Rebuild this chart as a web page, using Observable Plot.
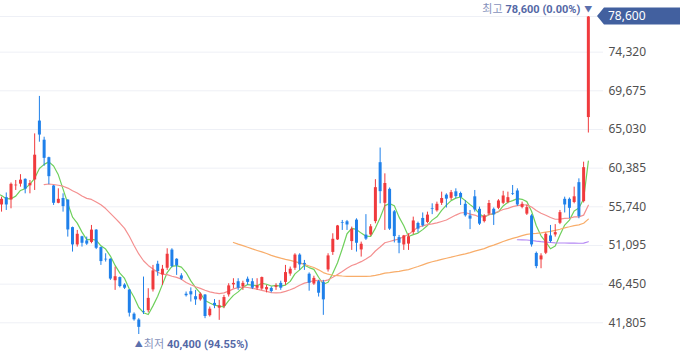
<!DOCTYPE html>
<html><head><meta charset="utf-8">
<script src="https://cdn.jsdelivr.net/npm/d3@7"></script>
<script src="https://cdn.jsdelivr.net/npm/@observablehq/plot@0.6"></script>
<style>
html,body{margin:0;padding:0;background:#fff;}
#chart svg{display:block;}
</style></head><body><div id="chart"></div>
<script>
// closes of the sessions before the visible window (only feed the moving averages)
const hiddenCloses = [58000,57300,58600,57900,57400,57600,57800,58600,56800,55600];
const opens = [55900,56900,56500,58200,58400,59100,58200,58900,66100,63800,
61700,58300,56100,56800,56600,53300,51100,52200,51700,51400,
53000,50900,49500,49500,46800,47300,46400,45800,42900,42200,
43200,43200,45700,48900,47500,48300,50600,49500,47500,45300,
45600,45000,44500,45200,42600,44200,43500,43700,45100,46300,
46800,46100,47100,46800,45900,45800,45700,46000,46000,46600,
46600,47600,48300,50000,49000,47700,46400,46800,46700,48100,
50200,51700,53900,54000,51500,54200,50500,52400,52300,53900,
61100,56100,57900,55200,52100,51100,51200,52600,53800,54400,
53800,55600,55200,56100,57200,56700,57600,57400,56100,54700,
57000,55500,53900,54800,55500,55500,56100,56200,57400,57700,
55600,54800,54700,50200,49300,50100,52300,52300,53700,56700,
56700,56200,58700,56300,66400];
const highs = [56900,57400,58600,58900,59600,59100,58900,64500,69000,64100,
61700,58300,57900,57300,56600,53300,52900,52200,52100,53500,
53000,50900,50100,49500,48500,47300,46500,45800,43000,42300,
47300,45900,48700,49200,48700,50700,50700,49500,47700,45500,
46000,45700,45400,45200,43700,44600,44500,45100,46500,47100,
47100,46800,47300,47100,47100,47300,46300,46100,46500,46800,
48700,48500,50100,50100,49300,47800,47400,46900,46900,50100,
52500,53500,54100,54100,53300,54300,51500,54800,53600,59000,
62800,59700,58000,55300,52300,52300,52500,54500,53900,55000,
55100,56100,56300,57500,57300,57700,57900,57500,56500,55300,
57700,55700,54800,56500,55600,56600,57600,57500,58300,57900,
56300,55900,54800,50300,50100,52600,53500,53600,55300,56900,
56800,58100,59100,61100,78600];
const lows = [55100,55300,55500,57700,58100,57300,57300,57700,63500,60600,
58400,55900,56100,55100,52100,50300,50900,50900,51100,51300,
50600,48700,49100,46900,45700,46000,45800,42500,42000,40400,
42800,43000,45500,47400,46300,48100,48400,47500,46900,44900,
44300,43900,44400,42300,42500,43500,42100,43500,44900,45900,
45700,45700,46300,45800,45700,45700,45400,45400,45700,45700,
46300,47400,48100,48100,48100,45600,46300,44900,42700,47900,
49900,51700,52900,52900,50500,50300,49700,51700,52200,53700,
56100,52900,52900,51400,50100,50500,50500,52400,52600,53300,
53700,54800,55100,55900,55600,56500,56700,55900,54500,53000,
55100,53500,53800,54700,53500,55400,56000,56100,57100,55800,
55500,54700,50900,48300,48300,50000,51400,52100,53600,55000,
54300,56100,54300,56200,64600];
const closes = [56700,55900,58500,58400,59000,57800,58600,62000,64300,61500,
59300,56100,56700,55700,52900,51100,52500,51300,51200,53000,
50700,49100,49300,47000,47400,46100,45900,42900,42100,41200,
43000,44800,48100,47900,48300,50100,48500,48600,47000,45000,
45100,44500,45300,42500,43500,43800,43900,44900,46300,46600,
45900,46600,46600,45900,46300,47300,46100,45500,46300,45900,
47900,48300,50000,48700,48700,46500,47200,45300,44500,49900,
51900,53500,53700,53500,53100,51300,51300,51800,53400,58100,
57500,58600,53000,52100,51300,52300,52200,54100,53000,53400,
54800,55400,56100,56800,56600,57500,56900,56800,54600,54200,
55300,53600,54700,56200,54700,56500,57100,56900,57200,55900,
56100,55700,51100,48500,49900,52500,51500,52700,55100,55900,
55500,57000,54500,60500,78600];
const yTicks = [41805, 46450, 51095, 55740, 60385, 65030, 69675, 74320];
const highValue = 78600, lowValue = 40400;
const highParts = ["최고 ", "78,600 (0.00%)"];
const lowParts = ["최저 ", "40,400 (94.55%)"];
const maPeriods = [5, 20, 60, 120];
const maColors = ["#6fd05c", "#f49090", "#f8ad6a", "#b487f4"];

const UP = "#f03a3d", DOWN = "#1f80ea";
const all = [];
hiddenCloses.forEach((c, i) => all.push({i, close: c, hidden: true}));
opens.forEach((o, j) => all.push({i: hiddenCloses.length + j, open: o, high: highs[j], low: lows[j], close: closes[j]}));
const visible = all.filter(d => !d.hidden);
const lastIdx = all.length - 1;
const lowIdx = visible.find(d => d.low === lowValue).i;
const col = d => d.close >= d.open ? UP : DOWN;

const plot = Plot.plot({
  width: 680, height: 358,
  marginLeft: 0, marginRight: 77, marginTop: 16, marginBottom: 24,
  style: {background: "#fff", fontFamily: "'Noto Sans','Noto Sans CJK KR',sans-serif", fontSize: "12px", color: "#505050", overflow: "visible"},
  color: {type: "identity"},
  x: {domain: [9.78, 137.2], axis: null},
  y: {domain: [lowValue, highValue], axis: "right", ticks: yTicks, tickSize: 0, tickPadding: 5, tickFormat: d3.format(","), label: null},
  marks: [
    Plot.ruleY([...yTicks, highValue], {stroke: "#eef0f6", strokeWidth: 1}),
    ...maPeriods.map((k, n) => Plot.lineY(all, Plot.windowY({k, anchor: "end", strict: true}, {x: "i", y: "close", stroke: maColors[n], strokeWidth: 1.2, clip: true}))),
    Plot.ruleX(visible, {x: "i", y1: "low", y2: "high", stroke: col, strokeWidth: 1}),
    Plot.ruleX(visible, {x: "i", y1: d => Math.min(d.open, d.close), y2: d => Math.max(d.open, d.close), stroke: col, strokeWidth: 3, insetTop: -0.5, insetBottom: -0.5}),
    Plot.text([highValue], {x: lastIdx, y: d => d, text: ["▼"], dy: -7, fontSize: 8, fill: "#5b70ad"}),
    Plot.text([highValue], {x: lastIdx, y: d => d, text: [highParts.join("")], dy: -7, dx: -8, textAnchor: "end", fontSize: 11}),
    Plot.text([lowValue], {x: lowIdx, y: d => d, text: ["▲"], dy: 10, fontSize: 8, fill: "#5b70ad"}),
    Plot.text([lowValue], {x: lowIdx, y: d => d, text: [lowParts.join("")], dy: 10, dx: 5, textAnchor: "start", fontSize: 11})
  ]
});

const svg = d3.select(plot);
function splitLabel(parts) {
  const full = parts.join("");
  const t = svg.selectAll("text").filter(function() { return this.textContent === full; });
  t.text(null);
  t.append("tspan").text(parts[0]).attr("fill", "#8591bb").attr("font-weight", 400);
  t.append("tspan").text(parts[1]).attr("fill", "#5468a6").attr("font-weight", 700)
    .attr("font-family", "Roboto, 'Liberation Sans', sans-serif");
}
splitLabel(highParts);
splitLabel(lowParts);

// current price badge on the right axis
const yb = plot.scale("y").apply(highValue);
const badge = svg.append("g");
badge.append("path")
  .attr("d", `M597,${yb} L604,${yb - 8.5} L680,${yb - 8.5} L680,${yb + 8.5} L604,${yb + 8.5} Z`)
  .attr("fill", "#42609f");
badge.append("text").attr("x", 608).attr("y", yb).attr("dy", "0.35em")
  .attr("text-anchor", "start").attr("fill", "#fff").attr("font-size", 12)
  .text(d3.format(",")(highValue));

document.getElementById("chart").appendChild(plot);
</script></body></html>
